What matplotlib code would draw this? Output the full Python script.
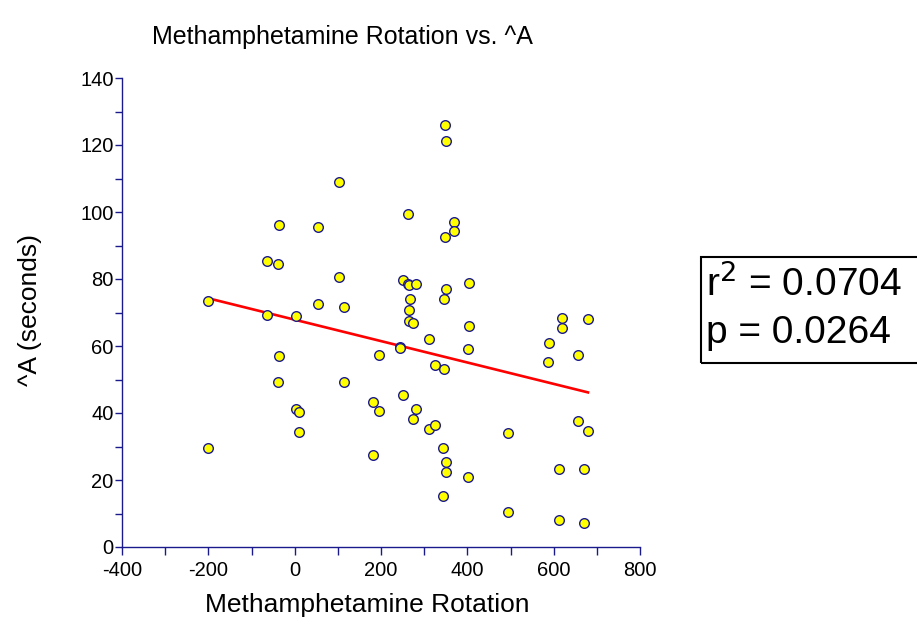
import matplotlib
matplotlib.use("Agg")
import matplotlib.pyplot as plt
from matplotlib.patches import Rectangle
from matplotlib.ticker import MultipleLocator
import numpy as np

plt.rcParams['font.family'] = ['Liberation Sans', 'DejaVu Sans']
plt.rcParams['axes.unicode_minus'] = False

# Methamphetamine rotation (x) vs ^A in seconds (y)
rotation = [102.7, -37, 54, 262.5, -64, -38, 103, 251, 262.5, 264,
            280, 267, 265, 266, 274, -201, -64, 3, 54, 114,
            -37, -38, 3, 10.7, 10, -201, 114, 194.6, 244, 245,
            180.7, 194.6, 181, 251.6, 280, 273, 349, 350.5, 370, 370,
            349, 403, 350.5, 346.6, 403, 619, 679.5, 619, 312, 400.8,
            588.4, 588, 655.6, 324, 346.6, 312, 324, 343, 350.5, 350.5,
            400.8, 343, 495, 495, 655.6, 679.5, 613, 671, 613, 671]
a_seconds = [109.0, 96.1, 95.4, 99.4, 85.3, 84.6, 80.7, 79.7, 78.6, 78.3,
             78.4, 73.9, 70.7, 67.6, 67.0, 73.3, 69.4, 69.0, 72.6, 71.6,
             57.0, 49.3, 41.1, 40.4, 34.2, 29.5, 49.3, 57.4, 59.8, 59.4,
             43.4, 40.6, 27.6, 45.3, 41.2, 38.2, 125.9, 121.3, 97.1, 94.3,
             92.5, 78.7, 77.1, 74.1, 66.0, 68.4, 68.0, 65.3, 62.0, 59.1,
             60.9, 55.1, 57.4, 54.4, 53.0, 35.1, 36.5, 29.6, 25.5, 22.5,
             20.9, 15.3, 33.9, 10.4, 37.5, 34.7, 23.3, 23.2, 8.1, 7.3]
r_squared = "0.0704"
p_value = "0.0264"

x = np.array(rotation)
y = np.array(a_seconds)
slope, intercept = np.polyfit(x, y, 1)
xfit = np.array([x.min(), x.max()])

navy = "#1a1a8c"

fig = plt.figure(figsize=(9.17, 6.24), dpi=100)
ax = fig.add_axes([122 / 917, 77 / 624, 518 / 917, 469 / 624])

ax.plot(xfit, slope * xfit + intercept, color="red", lw=1.9, zorder=2)
ax.scatter(x, y, s=48, facecolor="yellow", edgecolor=navy, linewidths=1.0, zorder=3)

ax.set_xlim(-400, 800)
ax.set_ylim(0, 140)
ax.xaxis.set_major_locator(MultipleLocator(200))
ax.xaxis.set_minor_locator(MultipleLocator(100))
ax.yaxis.set_major_locator(MultipleLocator(20))
ax.yaxis.set_minor_locator(MultipleLocator(10))

for s in ["top", "right"]:
    ax.spines[s].set_visible(False)
for s in ["left", "bottom"]:
    ax.spines[s].set_color(navy)
    ax.spines[s].set_linewidth(1.0)

ax.tick_params(which="both", direction="out", length=5, width=1, color=navy,
               labelsize=14.5)
ax.tick_params(axis="y", pad=1)
ax.tick_params(axis="x", which="both", length=6, pad=4)

ax.set_xlabel("Methamphetamine Rotation", fontsize=19)
ax.xaxis.set_label_coords((367 - 122) / 518, (547 - 593) / 469)
ax.set_ylabel("^A (seconds)", fontsize=19)
ax.yaxis.set_label_coords((42 - 122) / 518, (547 - 310) / 469)
fig.text(342 / 917, 1 - 37 / 624, "Methamphetamine Rotation vs. ^A",
         fontsize=18, ha="center", va="center")

# stats box, running off the right edge like the original
fig.patches.append(Rectangle((701 / 917, 1 - 363 / 624), 0.3, 106 / 624,
                             transform=fig.transFigure, fill=False,
                             edgecolor="black", lw=1.5, clip_on=False))
fig.text(706 / 917, 1 - 284 / 624, "r$^2$ = " + r_squared, fontsize=28,
         ha="left", va="center")
fig.text(706 / 917, 1 - 333 / 624, "p = " + p_value, fontsize=28,
         ha="left", va="center")

fig.savefig("out.png", dpi=100)
